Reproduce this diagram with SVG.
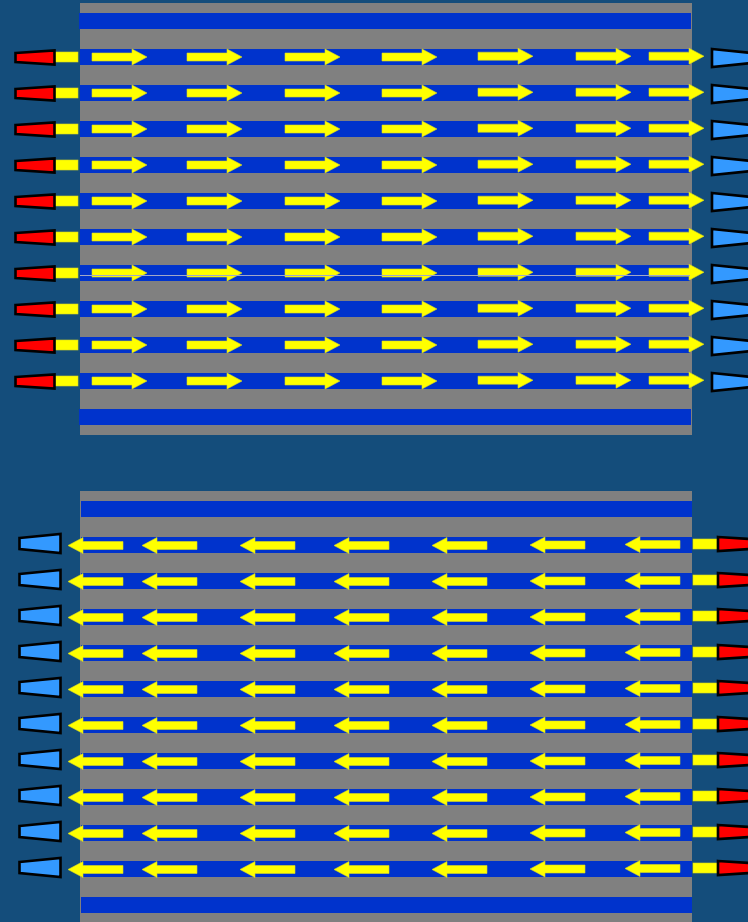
<svg xmlns="http://www.w3.org/2000/svg" xmlns:xlink="http://www.w3.org/1999/xlink" width="748" height="922" viewBox="0 0 748 922">
<style>
.bg{fill:#144d7b}
.gray{fill:#808080}
.bar{fill:#0033cc}
.yel{fill:#ffff00;stroke:#d8d820;stroke-width:0.6}
.red{fill:#ff0000;stroke:#000;stroke-width:2.6;stroke-linejoin:miter}
.lb{fill:#3399ff;stroke:#000;stroke-width:2.6;stroke-linejoin:miter}
.thin{stroke:#a0a8c8;stroke-width:1}
</style>
<defs>
<polygon id="aR" class="yel" points="0,-4 40,-4 40,-8 55,0 40,8 40,4 0,4"/>
<polygon id="aL" class="yel" points="0,0 15,-8 15,-4 55,-4 55,4 15,4 15,8"/>
<polygon id="cRedL" class="red" points="0,-4.5 39,-7 39,7 0,4.5"/>
<polygon id="cBlueR" class="lb" points="0,-9 40,-5 40,5 0,9"/>
<polygon id="cBlueL" class="lb" points="0,-5.5 41,-9.5 41,9.5 0,5.5"/>
<polygon id="cRedR" class="red" points="0,-7 40,-4.5 40,4.5 0,7"/>
<g id="rowTop">
<rect x="80" y="-8" width="610" height="16" class="bar"/>
<use xlink:href="#aR" x="92" y="0"/>
<use xlink:href="#aR" x="187" y="0"/>
<use xlink:href="#aR" x="285" y="0"/>
<use xlink:href="#aR" x="382" y="0"/>
<use xlink:href="#aR" x="478" y="-0.8"/>
<use xlink:href="#aR" x="576" y="-0.8"/>
<use xlink:href="#aR" x="649" y="-0.8"/>
<rect x="55" y="-5" width="23" height="10" class="yel"/>
<use xlink:href="#cRedL" x="15.5" y="0.5"/>
<use xlink:href="#cBlueR" x="712" y="1"/>
</g>
<g id="rowBot">
<rect x="81" y="-8" width="611" height="16" class="bar"/>
<use xlink:href="#aL" x="68" y="0.5"/>
<use xlink:href="#aL" x="142" y="0.5"/>
<use xlink:href="#aL" x="240" y="0.5"/>
<use xlink:href="#aL" x="334" y="0.5"/>
<use xlink:href="#aL" x="432" y="0.5"/>
<use xlink:href="#aL" x="530" y="0"/>
<use xlink:href="#aL" x="625" y="-0.5"/>
<rect x="693" y="-6" width="24" height="10" class="yel"/>
<use xlink:href="#cBlueL" x="19.5" y="-1.5"/>
<use xlink:href="#cRedR" x="718" y="-1"/>
</g>
</defs>
<rect class="bg" x="0" y="0" width="748" height="922"/>

<g id="panel-top">
<rect class="gray" x="80" y="3" width="612" height="432"/>
<rect class="bar" x="79" y="13" width="612" height="16"/>
<rect class="bar" x="79" y="409" width="612" height="16"/>
</g>
<g id="panel-bottom">
<rect class="gray" x="80" y="491" width="612" height="431"/>
<rect class="bar" x="81" y="501" width="611" height="16"/>
<rect class="bar" x="81" y="897" width="611" height="16"/>
</g>

<g id="top-rows">
<g id="t1"><use xlink:href="#rowTop" y="57"/></g>
<g id="t2"><use xlink:href="#rowTop" y="93"/></g>
<g id="t3"><use xlink:href="#rowTop" y="129"/></g>
<g id="t4"><use xlink:href="#rowTop" y="165"/></g>
<g id="t5"><use xlink:href="#rowTop" y="201"/></g>
<g id="t6"><use xlink:href="#rowTop" y="237"/></g>
<g id="t7"><use xlink:href="#rowTop" y="273"/><line class="thin" x1="80" y1="275.5" x2="690" y2="275.5"/></g>
<g id="t8"><use xlink:href="#rowTop" y="309"/></g>
<g id="t9"><use xlink:href="#rowTop" y="345"/></g>
<g id="t10"><use xlink:href="#rowTop" y="381"/></g>
</g>

<g id="bottom-rows">
<g id="b1"><use xlink:href="#rowBot" y="545"/></g>
<g id="b2"><use xlink:href="#rowBot" y="581"/></g>
<g id="b3"><use xlink:href="#rowBot" y="617"/></g>
<g id="b4"><use xlink:href="#rowBot" y="653"/></g>
<g id="b5"><use xlink:href="#rowBot" y="689"/></g>
<g id="b6"><use xlink:href="#rowBot" y="725"/></g>
<g id="b7"><use xlink:href="#rowBot" y="761"/></g>
<g id="b8"><use xlink:href="#rowBot" y="797"/></g>
<g id="b9"><use xlink:href="#rowBot" y="833"/></g>
<g id="b10"><use xlink:href="#rowBot" y="869"/></g>
</g>
<g id="connectors"></g>
</svg>
